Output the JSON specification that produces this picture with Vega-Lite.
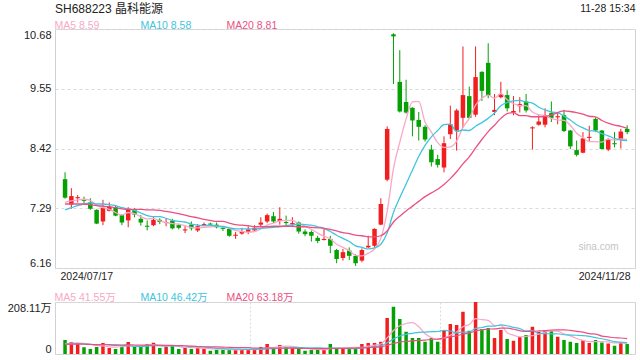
{
"$schema": "https://vega.github.io/schema/vega-lite/v6.json",
"background": "white",
"padding": {"left": 6, "top": 2, "right": 5, "bottom": 5},
"config": {
 "font": "Liberation Sans, Noto Sans CJK SC, sans-serif",
 "view": {"stroke": "#d2d2d2", "strokeWidth": 1},
 "axis": {"labelColor": "#222", "labelFontSize": 11, "ticks": false, "domain": false, "title": null, "gridColor": "#dadada", "gridDash": [3, 3]}
},
"title": {"text": "11-28 15:34", "anchor": "end", "frame": "bounds", "fontSize": 10.5, "fontWeight": "normal", "color": "#222", "offset": -12},
"bounds": "flush",
"spacing": 34,
"resolve": {"scale": {"color": "independent", "x": "independent", "y": "independent"}, "legend": {"color": "independent"}},
"datasets": {"k": [
{"i":0,"o":7.84,"h":7.97,"l":7.47,"c":7.49,"v":56,"m5":7.40,"m10":7.26,"m20":7.37,"a5":41.6,"a10":39.8,"a20":38.9},
{"i":1,"o":7.36,"h":7.67,"l":7.28,"c":7.52,"v":48,"m5":7.43,"m10":7.30,"m20":7.37,"a5":43.6,"a10":40.8,"a20":39.4},
{"i":2,"o":7.48,"h":7.54,"l":7.40,"c":7.50,"v":43,"m5":7.45,"m10":7.34,"m20":7.37,"a5":44.6,"a10":41.3,"a20":39.7},
{"i":3,"o":7.45,"h":7.51,"l":7.38,"c":7.43,"v":27,"m5":7.46,"m10":7.37,"m20":7.37,"a5":42.4,"a10":40.2,"a20":39.1},
{"i":4,"o":7.40,"h":7.48,"l":7.26,"c":7.28,"v":20,"m5":7.44,"m10":7.39,"m20":7.36,"a5":38.8,"a10":38.4,"a20":38.2},
{"i":5,"o":7.26,"h":7.27,"l":6.99,"c":7.00,"v":28,"m5":7.35,"m10":7.37,"m20":7.34,"a5":33.2,"a10":37.4,"a20":37.7},
{"i":6,"o":7.04,"h":7.45,"l":6.97,"c":7.30,"v":44,"m5":7.30,"m10":7.37,"m20":7.33,"a5":32.4,"a10":38.0,"a20":38.0},
{"i":7,"o":7.24,"h":7.40,"l":7.23,"c":7.32,"v":24,"m5":7.27,"m10":7.36,"m20":7.32,"a5":28.6,"a10":36.6,"a20":37.3},
{"i":8,"o":7.31,"h":7.34,"l":7.14,"c":7.15,"v":20,"m5":7.21,"m10":7.34,"m20":7.30,"a5":27.2,"a10":34.8,"a20":36.4},
{"i":9,"o":7.16,"h":7.18,"l":6.97,"c":7.02,"v":29,"m5":7.16,"m10":7.30,"m20":7.28,"a5":29.0,"a10":33.9,"a20":36.0},
{"i":10,"o":7.06,"h":7.31,"l":6.93,"c":7.28,"v":48,"m5":7.21,"m10":7.28,"m20":7.27,"a5":33.0,"a10":33.1,"a20":36.5},
{"i":11,"o":7.26,"h":7.29,"l":7.12,"c":7.17,"v":29,"m5":7.19,"m10":7.25,"m20":7.27,"a5":30.0,"a10":31.2,"a20":36.0},
{"i":12,"o":7.09,"h":7.16,"l":6.96,"c":7.02,"v":29,"m5":7.13,"m10":7.20,"m20":7.27,"a5":31.0,"a10":29.8,"a20":35.6},
{"i":13,"o":6.96,"h":7.06,"l":6.87,"c":6.94,"v":39,"m5":7.09,"m10":7.15,"m20":7.26,"a5":34.8,"a10":31.0,"a20":35.6},
{"i":14,"o":6.97,"h":7.13,"l":6.95,"c":7.07,"v":45,"m5":7.10,"m10":7.13,"m20":7.26,"a5":38.0,"a10":33.5,"a20":36.0},
{"i":15,"o":7.07,"h":7.10,"l":6.99,"c":7.03,"v":24,"m5":7.05,"m10":7.13,"m20":7.25,"a5":33.2,"a10":33.1,"a20":35.3},
{"i":16,"o":7.01,"h":7.09,"l":6.95,"c":7.03,"v":29,"m5":7.02,"m10":7.10,"m20":7.23,"a5":33.2,"a10":31.6,"a20":34.8},
{"i":17,"o":7.06,"h":7.09,"l":6.89,"c":6.91,"v":32,"m5":7.00,"m10":7.06,"m20":7.21,"a5":33.8,"a10":32.4,"a20":34.5},
{"i":18,"o":6.97,"h":7.00,"l":6.89,"c":6.92,"v":20,"m5":6.99,"m10":7.04,"m20":7.19,"a5":30.0,"a10":32.4,"a20":33.6},
{"i":19,"o":6.87,"h":6.95,"l":6.82,"c":6.89,"v":25,"m5":6.96,"m10":7.03,"m20":7.16,"a5":26.0,"a10":32.0,"a20":33.0},
{"i":20,"o":6.98,"h":7.04,"l":6.87,"c":6.91,"v":20,"m5":6.93,"m10":6.99,"m20":7.13,"a5":25.2,"a10":29.2,"a20":31.2},
{"i":21,"o":6.87,"h":6.99,"l":6.84,"c":6.95,"v":25,"m5":6.92,"m10":6.97,"m20":7.11,"a5":24.4,"a10":28.8,"a20":30.0},
{"i":22,"o":6.97,"h":7.02,"l":6.95,"c":6.99,"v":23,"m5":6.93,"m10":6.96,"m20":7.08,"a5":22.6,"a10":28.2,"a20":29.0},
{"i":23,"o":7.00,"h":7.02,"l":6.96,"c":6.98,"v":13,"m5":6.94,"m10":6.97,"m20":7.06,"a5":21.2,"a10":25.6,"a20":28.3},
{"i":24,"o":6.98,"h":7.02,"l":6.91,"c":6.93,"v":17,"m5":6.95,"m10":6.95,"m20":7.04,"a5":19.6,"a10":22.8,"a20":28.2},
{"i":25,"o":6.92,"h":6.93,"l":6.86,"c":6.90,"v":17,"m5":6.95,"m10":6.94,"m20":7.04,"a5":19.0,"a10":22.1,"a20":27.6},
{"i":26,"o":6.90,"h":6.92,"l":6.75,"c":6.77,"v":17,"m5":6.91,"m10":6.92,"m20":7.01,"a5":17.4,"a10":20.9,"a20":26.3},
{"i":27,"o":6.77,"h":6.84,"l":6.71,"c":6.79,"v":17,"m5":6.87,"m10":6.90,"m20":6.98,"a5":16.2,"a10":19.4,"a20":25.9},
{"i":28,"o":6.81,"h":6.92,"l":6.79,"c":6.86,"v":17,"m5":6.85,"m10":6.90,"m20":6.97,"a5":17.0,"a10":19.1,"a20":25.8},
{"i":29,"o":6.84,"h":6.95,"l":6.80,"c":6.89,"v":17,"m5":6.84,"m10":6.90,"m20":6.96,"a5":17.0,"a10":18.3,"a20":25.2},
{"i":30,"o":6.87,"h":6.97,"l":6.85,"c":6.92,"v":21,"m5":6.85,"m10":6.90,"m20":6.94,"a5":17.8,"a10":18.4,"a20":23.8},
{"i":31,"o":6.98,"h":7.12,"l":6.94,"c":7.02,"v":28,"m5":6.90,"m10":6.91,"m20":6.94,"a5":20.0,"a10":18.7,"a20":23.8},
{"i":32,"o":7.04,"h":7.19,"l":7.01,"c":7.16,"v":40,"m5":6.97,"m10":6.92,"m20":6.94,"a5":24.6,"a10":20.4,"a20":24.3},
{"i":33,"o":7.14,"h":7.22,"l":7.01,"c":7.04,"v":24,"m5":7.01,"m10":6.93,"m20":6.95,"a5":26.0,"a10":21.5,"a20":23.6},
{"i":34,"o":7.05,"h":7.31,"l":6.98,"c":7.09,"v":36,"m5":7.05,"m10":6.94,"m20":6.95,"a5":29.8,"a10":23.4,"a20":23.1},
{"i":35,"o":7.03,"h":7.15,"l":6.96,"c":7.01,"v":28,"m5":7.06,"m10":6.96,"m20":6.95,"a5":31.2,"a10":24.5,"a20":23.3},
{"i":36,"o":6.99,"h":7.12,"l":6.94,"c":7.01,"v":24,"m5":7.06,"m10":6.98,"m20":6.95,"a5":30.4,"a10":25.2,"a20":23.1},
{"i":37,"o":7.02,"h":7.04,"l":6.81,"c":6.85,"v":20,"m5":7.00,"m10":6.99,"m20":6.94,"a5":26.4,"a10":25.5,"a20":22.5},
{"i":38,"o":6.85,"h":6.89,"l":6.76,"c":6.80,"v":13,"m5":6.95,"m10":6.98,"m20":6.94,"a5":24.2,"a10":25.1,"a20":22.1},
{"i":39,"o":6.84,"h":6.87,"l":6.66,"c":6.77,"v":16,"m5":6.89,"m10":6.97,"m20":6.93,"a5":20.2,"a10":25.0,"a20":21.7},
{"i":40,"o":6.73,"h":6.77,"l":6.63,"c":6.67,"v":20,"m5":6.82,"m10":6.94,"m20":6.92,"a5":18.6,"a10":24.9,"a20":21.7},
{"i":41,"o":6.69,"h":6.90,"l":6.68,"c":6.71,"v":17,"m5":6.76,"m10":6.91,"m20":6.91,"a5":17.2,"a10":23.8,"a20":21.3},
{"i":42,"o":6.71,"h":6.77,"l":6.44,"c":6.58,"v":40,"m5":6.71,"m10":6.85,"m20":6.89,"a5":21.2,"a10":23.8,"a20":22.1},
{"i":43,"o":6.50,"h":6.52,"l":6.25,"c":6.33,"v":20,"m5":6.61,"m10":6.78,"m20":6.86,"a5":22.6,"a10":23.4,"a20":22.5},
{"i":44,"o":6.35,"h":6.52,"l":6.30,"c":6.46,"v":24,"m5":6.55,"m10":6.72,"m20":6.83,"a5":24.2,"a10":22.2,"a20":22.8},
{"i":45,"o":6.49,"h":6.55,"l":6.31,"c":6.39,"v":24,"m5":6.49,"m10":6.66,"m20":6.81,"a5":25.0,"a10":21.8,"a20":23.2},
{"i":46,"o":6.39,"h":6.42,"l":6.20,"c":6.25,"v":24,"m5":6.40,"m10":6.58,"m20":6.78,"a5":26.4,"a10":21.8,"a20":23.5},
{"i":47,"o":6.30,"h":6.53,"l":6.27,"c":6.50,"v":40,"m5":6.39,"m10":6.55,"m20":6.77,"a5":26.4,"a10":23.8,"a20":24.7},
{"i":48,"o":6.55,"h":6.77,"l":6.54,"c":6.58,"v":44,"m5":6.44,"m10":6.52,"m20":6.75,"a5":31.2,"a10":26.9,"a20":26.0},
{"i":49,"o":6.58,"h":6.91,"l":6.55,"c":6.90,"v":44,"m5":6.52,"m10":6.54,"m20":6.75,"a5":35.2,"a10":29.7,"a20":27.4},
{"i":50,"o":6.98,"h":7.48,"l":6.97,"c":7.37,"v":49,"m5":6.72,"m10":6.61,"m20":6.77,"a5":40.2,"a10":32.6,"a20":28.8},
{"i":51,"o":7.83,"h":8.84,"l":7.80,"c":8.79,"v":144,"m5":7.23,"m10":6.82,"m20":6.86,"a5":64.2,"a10":45.3,"a20":34.6},
{"i":52,"o":10.58,"h":10.60,"l":9.64,"c":10.54,"v":189,"m5":8.04,"m10":7.21,"m20":7.03,"a5":94.0,"a10":60.2,"a20":42.0},
{"i":53,"o":9.68,"h":10.28,"l":9.10,"c":9.12,"v":140,"m5":8.54,"m10":7.49,"m20":7.14,"a5":113.2,"a10":72.2,"a20":47.8},
{"i":54,"o":9.30,"h":9.72,"l":9.08,"c":9.10,"v":89,"m5":8.98,"m10":7.75,"m20":7.24,"a5":122.2,"a10":78.7,"a20":50.5},
{"i":55,"o":9.19,"h":9.20,"l":8.65,"c":8.95,"v":64,"m5":9.30,"m10":8.01,"m20":7.33,"a5":125.2,"a10":82.7,"a20":52.3},
{"i":56,"o":8.96,"h":9.11,"l":8.57,"c":8.83,"v":64,"m5":9.31,"m10":8.27,"m20":7.42,"a5":109.2,"a10":86.7,"a20":54.3},
{"i":57,"o":8.83,"h":8.86,"l":8.55,"c":8.59,"v":49,"m5":8.92,"m10":8.48,"m20":7.51,"a5":81.2,"a10":87.6,"a20":55.7},
{"i":58,"o":8.40,"h":8.49,"l":8.08,"c":8.16,"v":64,"m5":8.73,"m10":8.64,"m20":7.58,"a5":66.0,"a10":89.6,"a20":58.3},
{"i":59,"o":8.22,"h":8.30,"l":8.06,"c":8.11,"v":49,"m5":8.53,"m10":8.76,"m20":7.65,"a5":58.0,"a10":90.1,"a20":59.9},
{"i":60,"o":8.06,"h":8.65,"l":7.97,"c":8.52,"v":93,"m5":8.44,"m10":8.87,"m20":7.74,"a5":63.8,"a10":94.5,"a20":63.6},
{"i":61,"o":8.69,"h":9.23,"l":8.60,"c":8.88,"v":120,"m5":8.45,"m10":8.88,"m20":7.85,"a5":75.0,"a10":92.1,"a20":68.7},
{"i":62,"o":8.76,"h":9.17,"l":8.38,"c":9.14,"v":116,"m5":8.56,"m10":8.74,"m20":7.98,"a5":88.4,"a10":84.8,"a20":72.5},
{"i":63,"o":9.00,"h":10.35,"l":8.81,"c":9.43,"v":169,"m5":8.82,"m10":8.77,"m20":8.13,"a5":109.4,"a10":87.7,"a20":80.0},
{"i":64,"o":9.41,"h":9.59,"l":8.99,"c":9.00,"v":93,"m5":8.99,"m10":8.76,"m20":8.26,"a5":118.2,"a10":88.1,"a20":83.4},
{"i":65,"o":9.06,"h":10.35,"l":9.02,"c":9.77,"v":208.11,"m5":9.24,"m10":8.84,"m20":8.43,"a5":141.2,"a10":102.5,"a20":92.6},
{"i":66,"o":9.87,"h":9.88,"l":9.32,"c":9.51,"v":100,"m5":9.37,"m10":8.91,"m20":8.59,"a5":137.2,"a10":106.1,"a20":96.4},
{"i":67,"o":10.04,"h":10.41,"l":9.37,"c":9.42,"v":104,"m5":9.43,"m10":8.99,"m20":8.74,"a5":134.8,"a10":111.6,"a20":99.6},
{"i":68,"o":9.11,"h":9.45,"l":9.05,"c":9.15,"v":64,"m5":9.37,"m10":9.09,"m20":8.86,"a5":113.8,"a10":111.6,"a20":100.6},
{"i":69,"o":9.39,"h":9.68,"l":9.37,"c":9.45,"v":96,"m5":9.46,"m10":9.23,"m20":8.99,"a5":114.4,"a10":116.3,"a20":103.2},
{"i":70,"o":9.43,"h":9.52,"l":9.12,"c":9.18,"v":60,"m5":9.34,"m10":9.29,"m20":9.08,"a5":84.8,"a10":113.0,"a20":103.8},
{"i":71,"o":9.10,"h":9.41,"l":9.05,"c":9.13,"v":53,"m5":9.27,"m10":9.32,"m20":9.10,"a5":75.4,"a10":106.3,"a20":99.2},
{"i":72,"o":9.22,"h":9.39,"l":9.10,"c":9.26,"v":69,"m5":9.23,"m10":9.33,"m20":9.04,"a5":68.4,"a10":101.6,"a20":93.2},
{"i":73,"o":9.31,"h":9.45,"l":9.10,"c":9.14,"v":76,"m5":9.23,"m10":9.30,"m20":9.04,"a5":70.8,"a10":92.3,"a20":90.0},
{"i":74,"o":8.80,"h":8.84,"l":8.40,"c":8.82,"v":109,"m5":9.11,"m10":9.28,"m20":9.02,"a5":73.4,"a10":93.9,"a20":91.0},
{"i":75,"o":8.87,"h":9.05,"l":8.85,"c":8.93,"v":89,"m5":9.06,"m10":9.20,"m20":9.02,"a5":79.2,"a10":82.0,"a20":92.3},
{"i":76,"o":8.87,"h":9.18,"l":8.82,"c":9.04,"v":96,"m5":9.04,"m10":9.15,"m20":9.03,"a5":87.8,"a10":81.6,"a20":93.9},
{"i":77,"o":9.09,"h":9.31,"l":8.92,"c":9.00,"v":93,"m5":8.99,"m10":9.11,"m20":9.05,"a5":92.6,"a10":80.5,"a20":96.1},
{"i":78,"o":9.01,"h":9.11,"l":8.88,"c":9.03,"v":69,"m5":8.96,"m10":9.10,"m20":9.10,"a5":91.2,"a10":81.0,"a20":96.3},
{"i":79,"o":9.05,"h":9.15,"l":8.73,"c":8.75,"v":56,"m5":8.95,"m10":9.03,"m20":9.13,"a5":80.6,"a10":77.0,"a20":96.7},
{"i":80,"o":8.76,"h":8.77,"l":8.41,"c":8.46,"v":49,"m5":8.86,"m10":8.96,"m20":9.12,"a5":72.6,"a10":75.9,"a20":94.5},
{"i":81,"o":8.39,"h":8.57,"l":8.27,"c":8.30,"v":44,"m5":8.71,"m10":8.87,"m20":9.10,"a5":62.2,"a10":75.0,"a20":90.7},
{"i":82,"o":8.34,"h":8.73,"l":8.33,"c":8.61,"v":56,"m5":8.63,"m10":8.81,"m20":9.07,"a5":54.8,"a10":73.7,"a20":87.7},
{"i":83,"o":8.62,"h":8.85,"l":8.55,"c":8.64,"v":44,"m5":8.55,"m10":8.76,"m20":9.03,"a5":49.8,"a10":70.5,"a20":81.4},
{"i":84,"o":8.98,"h":9.01,"l":8.73,"c":8.76,"v":56,"m5":8.55,"m10":8.75,"m20":9.02,"a5":49.8,"a10":65.2,"a20":79.6},
{"i":85,"o":8.76,"h":8.77,"l":8.40,"c":8.41,"v":46,"m5":8.54,"m10":8.70,"m20":8.95,"a5":49.2,"a10":60.9,"a20":71.5},
{"i":86,"o":8.40,"h":8.62,"l":8.37,"c":8.59,"v":42,"m5":8.60,"m10":8.66,"m20":8.90,"a5":48.8,"a10":55.5,"a20":68.6},
{"i":87,"o":8.52,"h":8.73,"l":8.44,"c":8.50,"v":33,"m5":8.58,"m10":8.61,"m20":8.86,"a5":44.2,"a10":49.5,"a20":65.0},
{"i":88,"o":8.58,"h":8.79,"l":8.42,"c":8.74,"v":46,"m5":8.60,"m10":8.58,"m20":8.84,"a5":44.6,"a10":47.2,"a20":64.1},
{"i":89,"o":8.79,"h":8.86,"l":8.69,"c":8.73,"v":40,"m5":8.59,"m10":8.57,"m20":8.80,"a5":41.4,"a10":45.6,"a20":61.3}
]},
"vconcat": [
{
 "width": 580, "height": 239,
 "title": {"text": "SH688223 晶科能源", "anchor": "start", "frame": "group", "fontSize": 12, "fontWeight": "normal", "color": "#222", "offset": 5},
 "data": {"name": "k"},
 "layer": [
  {"mark": {"type": "rule", "strokeWidth": 1},
   "encoding": {
    "x": {"field": "i", "type": "quantitative", "scale": {"domain": [-0.8, 89.45], "nice": false, "zero": false},
          "axis": {"values": [-0.8, 89.45], "labelExpr": "datum.value < 0 ? '2024/07/17' : '2024/11/28'", "labelFlush": false, "labelAlign": {"condition": {"test": "datum.value < 0", "value": "left"}, "value": "right"}, "grid": false, "labelPadding": 3, "labelFontSize": 10.5}},
    "y": {"field": "l", "type": "quantitative", "scale": {"domain": [6.16, 10.68], "nice": false, "zero": false},
          "axis": {"values": [6.16, 7.29, 8.42, 9.55, 10.68], "format": ".2f", "labelFlush": true, "grid": true, "labelPadding": 4}},
    "y2": {"field": "h"},
    "color": {"condition": {"test": "datum.c >= datum.o", "value": "#f21d1d"}, "value": "#04a004"}
   }},
  {"mark": {"type": "bar", "size": 4.5},
   "encoding": {
    "x": {"field": "i", "type": "quantitative"},
    "y": {"field": "o", "type": "quantitative"},
    "y2": {"field": "c"},
    "color": {"condition": {"test": "datum.c >= datum.o", "value": "#f21d1d"}, "value": "#04a004"}
   }},
  {"mark": {"type": "line", "strokeWidth": 1.3, "interpolate": "monotone"},
   "encoding": {
    "x": {"field": "i", "type": "quantitative"},
    "y": {"field": "m5", "type": "quantitative"},
    "color": {"datum": "MA5 8.59", "type": "nominal",
      "scale": {"domain": ["MA5 8.59", "MA10 8.58", "MA20 8.81"], "range": ["#f8a8c8", "#40c4de", "#ec5082"]},
      "legend": {"orient": "none", "legendX": -11, "legendY": -8.5, "direction": "horizontal", "title": null, "symbolSize": 0, "symbolStrokeWidth": 0, "labelOffset": 0, "labelFontSize": 10.5, "gridAlign": "all", "columnPadding": 24, "padding": 0,
        "encode": {"labels": {"update": {"fill": {"signal": "indexof(datum.value,'MA5 ')==0 ? '#f8a8c8' : indexof(datum.value,'MA10 ')==0 ? '#40c4de' : '#ec5082'"}}}}}}
   }},
  {"mark": {"type": "line", "strokeWidth": 1.3, "interpolate": "monotone"},
   "encoding": {
    "x": {"field": "i", "type": "quantitative"},
    "y": {"field": "m10", "type": "quantitative"},
    "color": {"datum": "MA10 8.58", "type": "nominal"}
   }},
  {"mark": {"type": "line", "strokeWidth": 1.3, "interpolate": "monotone"},
   "encoding": {
    "x": {"field": "i", "type": "quantitative"},
    "y": {"field": "m20", "type": "quantitative"},
    "color": {"datum": "MA20 8.81", "type": "nominal"}
   }},
  {"data": {"values": [{"t": "sina.com"}]},
   "mark": {"type": "text", "fontSize": 10, "color": "#c4c4c4", "align": "center", "baseline": "middle"},
   "encoding": {"x": {"datum": 84.47}, "y": {"datum": 6.55}, "text": {"field": "t"}}}
 ]
},
{
 "width": 580, "height": 52,
 "data": {"name": "k"},
 "layer": [
  {"mark": {"type": "bar", "size": 3.5},
   "encoding": {
    "x": {"field": "i", "type": "quantitative", "scale": {"domain": [-0.8, 89.45], "nice": false, "zero": false},
          "axis": {"values": [29.28, 59.37], "grid": true, "labels": false, "gridDash": [2, 2]}},
    "y": {"field": "v", "type": "quantitative", "scale": {"domain": [0, 208.11], "nice": false},
          "axis": {"values": [0, 208.11], "labelExpr": "datum.value == 0 ? '0' : '208.11万'", "labelFlush": true, "grid": true, "gridDash": [2, 2], "labelPadding": 4}},
    "color": {"condition": {"test": "datum.c >= datum.o", "value": "#f21d1d"}, "value": "#04a004"}
   }},
  {"mark": {"type": "line", "strokeWidth": 1.2, "interpolate": "monotone"},
   "encoding": {
    "x": {"field": "i", "type": "quantitative"},
    "y": {"field": "a5", "type": "quantitative"},
    "color": {"datum": "MA5 41.55万", "type": "nominal",
      "scale": {"domain": ["MA5 41.55万", "MA10 46.42万", "MA20 63.18万"], "range": ["#f8a8c8", "#40c4de", "#ec5082"]},
      "legend": {"orient": "none", "legendX": -11, "legendY": -9.5, "direction": "horizontal", "title": null, "symbolSize": 0, "symbolStrokeWidth": 0, "labelOffset": 0, "labelFontSize": 10.5, "gridAlign": "all", "columnPadding": 8, "padding": 0,
        "encode": {"labels": {"update": {"fill": {"signal": "indexof(datum.value,'MA5 ')==0 ? '#f8a8c8' : indexof(datum.value,'MA10 ')==0 ? '#40c4de' : '#ec5082'"}}}}}}
   }},
  {"mark": {"type": "line", "strokeWidth": 1.2, "interpolate": "monotone"},
   "encoding": {
    "x": {"field": "i", "type": "quantitative"},
    "y": {"field": "a10", "type": "quantitative"},
    "color": {"datum": "MA10 46.42万", "type": "nominal"}
   }},
  {"mark": {"type": "line", "strokeWidth": 1.2, "interpolate": "monotone"},
   "encoding": {
    "x": {"field": "i", "type": "quantitative"},
    "y": {"field": "a20", "type": "quantitative"},
    "color": {"datum": "MA20 63.18万", "type": "nominal"}
   }}
 ]
}
]
}
